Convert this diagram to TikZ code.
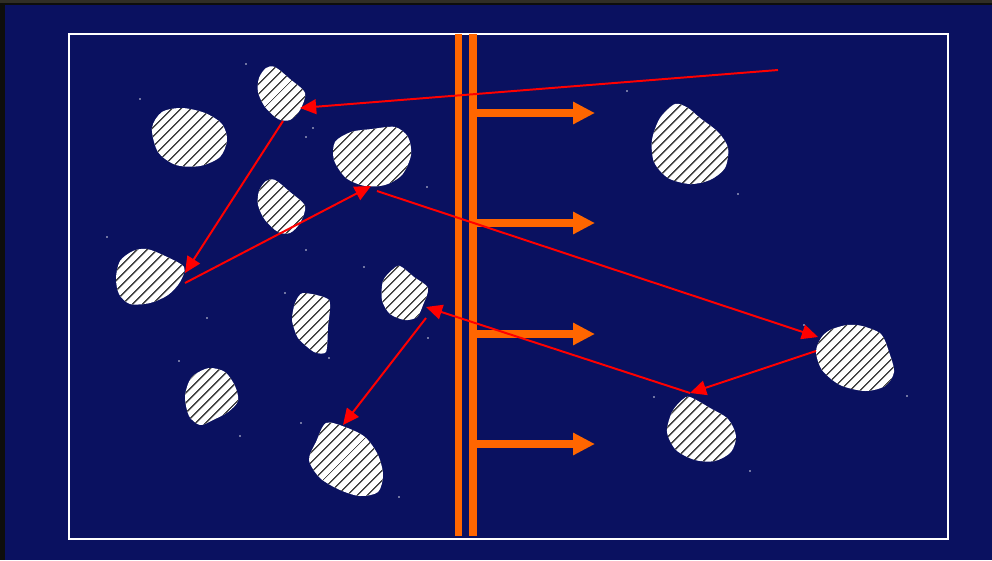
\documentclass[tikz,border=0pt]{standalone}
\usepackage{tikz}
\usetikzlibrary{arrows.meta, patterns.meta}

\definecolor{navy}{RGB}{10,17,96}
\definecolor{wallorange}{RGB}{255,102,0}
\definecolor{hatch}{RGB}{70,70,70}
\definecolor{edge}{RGB}{14,14,12}
\definecolor{edgetop}{RGB}{48,46,38}

\tikzset{
	rock/.style={fill=white, postaction={pattern={Lines[angle=45, distance=5.4pt, line width=1.2pt]}, pattern color=hatch}},
	hop/.style={draw=red, line width=1.4pt, -{Triangle[length=11.5pt, width=10.5pt]}},
	push/.style={draw=wallorange, line width=5.2pt, -{Triangle[length=15.6pt, width=15pt]}},
	wall/.style={rectangle, fill=wallorange, inner sep=0pt, minimum width=0.185cm, minimum height=12.55cm},
	dust/.style={fill=white!85!navy}
}

\begin{document}
\begin{tikzpicture}[x=0.025cm, y=-0.025cm]
		\useasboundingbox (0,0) rectangle (992,560);
		\fill[edge] (0,0) rectangle (992,560);
		\fill[edgetop] (0,0) rectangle (992,3);
		\fill[navy] (5,5) rectangle (992,560);
		
		\draw[white, line width=1.4pt] (69,34) rectangle (948,539);
		
		\foreach \p in {(246,64),(140,99),(313,128),(306,137),(427,187),(107,237),(306,250),
			(364,267),(285,293),(207,318),(329,358),(428,338),(179,361),(301,423),(240,436),
			(399,497),(627,91),(738,194),(804,325),(654,397),(907,396),(750,471)}
		\fill[dust] \p circle (0.9);
		
		% rocks, left side
		\path[rock] plot[smooth cycle] coordinates {(152,128) (162,112) (182,108) (205,113) (222,124) (227,140) (220,157) (200,166) (176,165) (158,152)};
		\path[rock] plot[smooth cycle, tension=0.5] coordinates {(259,78) (266,68) (275,67) (290,79) (305,93) (300,110) (290,120) (278,119) (265,107) (258,92)};
		\path[rock] plot[smooth cycle] coordinates {(335,142) (351,132) (372,129) (395,127) (408,137) (411,155) (402,175) (385,185) (365,186) (346,178) (334,160)};
		\path[rock] plot[smooth cycle, tension=0.5] coordinates {(259,191) (266,181) (275,180) (290,192) (305,206) (300,223) (290,233) (278,232) (265,220) (258,205)};
		\path[rock] plot[smooth cycle] coordinates {(120,261) (133,251) (147,249) (165,256) (184,267) (180,282) (168,295) (150,303) (130,304) (119,294) (116,278)};
		\path[rock] plot[smooth cycle, tension=0.4] coordinates {(303,293) (329,300) (328,327) (326,352) (314,352) (298,338) (292,320) (295,303)};
		\path[rock] plot[smooth cycle, tension=0.5] coordinates {(392,270) (400,266) (414,277) (428,288) (423,305) (417,317) (405,320) (390,314) (382,300) (383,281)};
		\path[rock] plot[smooth cycle] coordinates {(194,375) (209,368) (225,372) (235,386) (238,401) (228,412) (213,420) (200,425) (189,416) (185,398) (188,384)};
		\path[rock] plot[smooth cycle, tension=0.5] coordinates {(326,423) (345,427) (365,437) (378,455) (383,475) (378,492) (360,496) (340,490) (320,478) (309,460) (316,442)};
		
		% rocks, right side
		\path[rock] plot[smooth cycle] coordinates {(675,104) (688,108) (700,118) (718,132) (728,148) (725,168) (710,180) (690,184) (668,178) (654,162) (652,140) (660,118)};
		\path[rock] plot[smooth cycle] coordinates {(830,330) (847,325) (862,326) (881,334) (889,352) (894,372) (885,386) (865,391) (840,385) (822,370) (816,352) (821,338)};
		\path[rock] plot[smooth cycle] coordinates {(682,400) (690,397) (710,408) (728,419) (736,436) (731,452) (715,461) (695,460) (676,450) (667,432) (672,412)};
		
		% double wall
		\node (Wall left) at (458.6,285) [wall]{};
		\node (Wall right) at (473,285) [wall]{};
		\foreach \y [count=\i] in {113,223,334,444} {
			\coordinate (Push \i) at (595,\y);
			\draw[push] (Wall right.east |- Push \i) -- (Push \i);
		}
		
		% path through the rocks
		\coordinate (Start) at (778,70);
		\coordinate (Rock B in) at (300,108);
		\coordinate (Rock B out) at (283,121);
		\coordinate (Rock E in) at (185,273);
		\coordinate (Rock E out) at (185,283);
		\coordinate (Rock C in) at (371,186);
		\coordinate (Rock C out) at (377,191);
		\coordinate (Rock K in) at (818,337);
		\coordinate (Rock K out) at (816,351);
		\coordinate (Rock L in) at (690,393);
		\coordinate (Rock G in) at (426,307);
		\coordinate (Rock G out) at (426,318);
		\coordinate (Rock I in) at (343,425);
		
		\draw[hop] (Start) -- (Rock B in);
		\draw[hop] (Rock B out) -- (Rock E in);
		\draw[hop] (Rock E out) -- (Rock C in);
		\draw[hop] (Rock C out) -- (Rock K in);
		\draw[hop] (Rock K out) -- (Rock L in);
		\draw[hop] (Rock L in) -- (Rock G in);
		\draw[hop] (Rock G out) -- (Rock I in);
\end{tikzpicture}
\end{document}
